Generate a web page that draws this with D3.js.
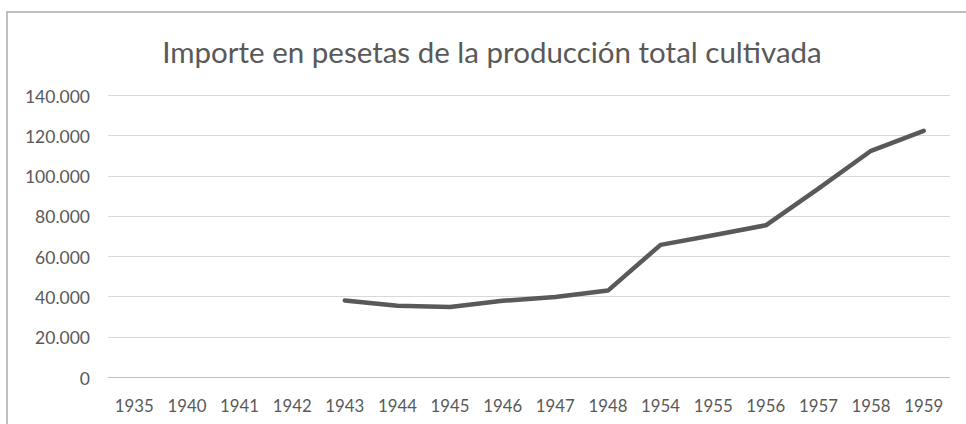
<!DOCTYPE html>
<html>
<head>
<meta charset="utf-8">
<script src="https://cdn.jsdelivr.net/npm/d3@7"></script>
<style>
  body { margin: 0; background: #fff; }
  svg { display: block; }
</style>
</head>
<body>
<div id="chart"></div>
<script>
var years = ["1935", "1940", "1941", "1942", "1943", "1944", "1945", "1946",
             "1947", "1948", "1954", "1955", "1956", "1957", "1958", "1959"];
// null = sin dato
var importe = [null, null, null, null, 38000, 35400, 34800, 37800,
               39700, 42900, 65600, 70400, 75300, 93500, 112300, 122200];
var yTicks = [0, 20000, 40000, 60000, 80000, 100000, 120000, 140000];

var width = 966, height = 424;
var margin = { top: 95, right: 16, bottom: 47, left: 108 };
var font = "Lato, 'Open Sans', sans-serif";

var svg = d3.select("#chart")
    .append("svg")
    .attr("width", width)
    .attr("height", height);

// marco del gráfico
svg.append("path")
    .attr("d", "M7,424 V12 H966")
    .attr("fill", "none")
    .attr("stroke", "#bfbfbf")
    .attr("stroke-width", 2);

var x = d3.scaleBand()
    .domain(years)
    .range([margin.left, width - margin.right]);

var y = d3.scaleLinear()
    .domain([0, 140000])
    .range([height - margin.bottom, margin.top]);

var fmt = function (d) {
    return d3.format(",")(d).replace(/,/g, ".");
};

// rejilla
svg.append("g")
    .selectAll("line")
    .data(yTicks)
    .enter()
    .append("line")
    .attr("x1", margin.left)
    .attr("x2", width - margin.right)
    .attr("y1", function (d) { return Math.round(y(d)) + 0.5; })
    .attr("y2", function (d) { return Math.round(y(d)) + 0.5; })
    .attr("stroke", function (d) { return d === 0 ? "#bfbfbf" : "#d9d9d9"; })
    .attr("stroke-width", 1);

// eje Y
var yAxis = svg.append("g")
    .attr("transform", "translate(" + (margin.left - 18) + ",1.5)")
    .call(d3.axisLeft(y).tickValues(yTicks).tickFormat(fmt).tickSize(0).tickPadding(0));
yAxis.select(".domain").remove();
yAxis.selectAll("text")
    .attr("fill", "#595959")
    .attr("font-family", font)
    .attr("font-size", "17.5px");

// eje X
var xAxis = svg.append("g")
    .attr("transform", "translate(0," + (height - margin.bottom) + ")")
    .call(d3.axisBottom(x).tickSize(0).tickPadding(23));
xAxis.select(".domain").remove();
xAxis.selectAll("text")
    .attr("fill", "#595959")
    .attr("font-family", font)
    .attr("font-size", "16.8px");

// línea
var line = d3.line()
    .defined(function (d) { return d != null; })
    .x(function (d, i) { return x(years[i]) + x.bandwidth() / 2; })
    .y(function (d) { return y(d); });

svg.append("path")
    .datum(importe)
    .attr("d", line)
    .attr("fill", "none")
    .attr("stroke", "#595959")
    .attr("stroke-width", 4.5)
    .attr("stroke-linejoin", "round")
    .attr("stroke-linecap", "round");

// título
svg.append("text")
    .attr("x", 492)
    .attr("y", 63)
    .attr("text-anchor", "middle")
    .attr("fill", "#595959")
    .attr("font-family", font)
    .attr("font-size", "29.5px")
    .text("Importe en pesetas de la producción total cultivada");
</script>
</body>
</html>
